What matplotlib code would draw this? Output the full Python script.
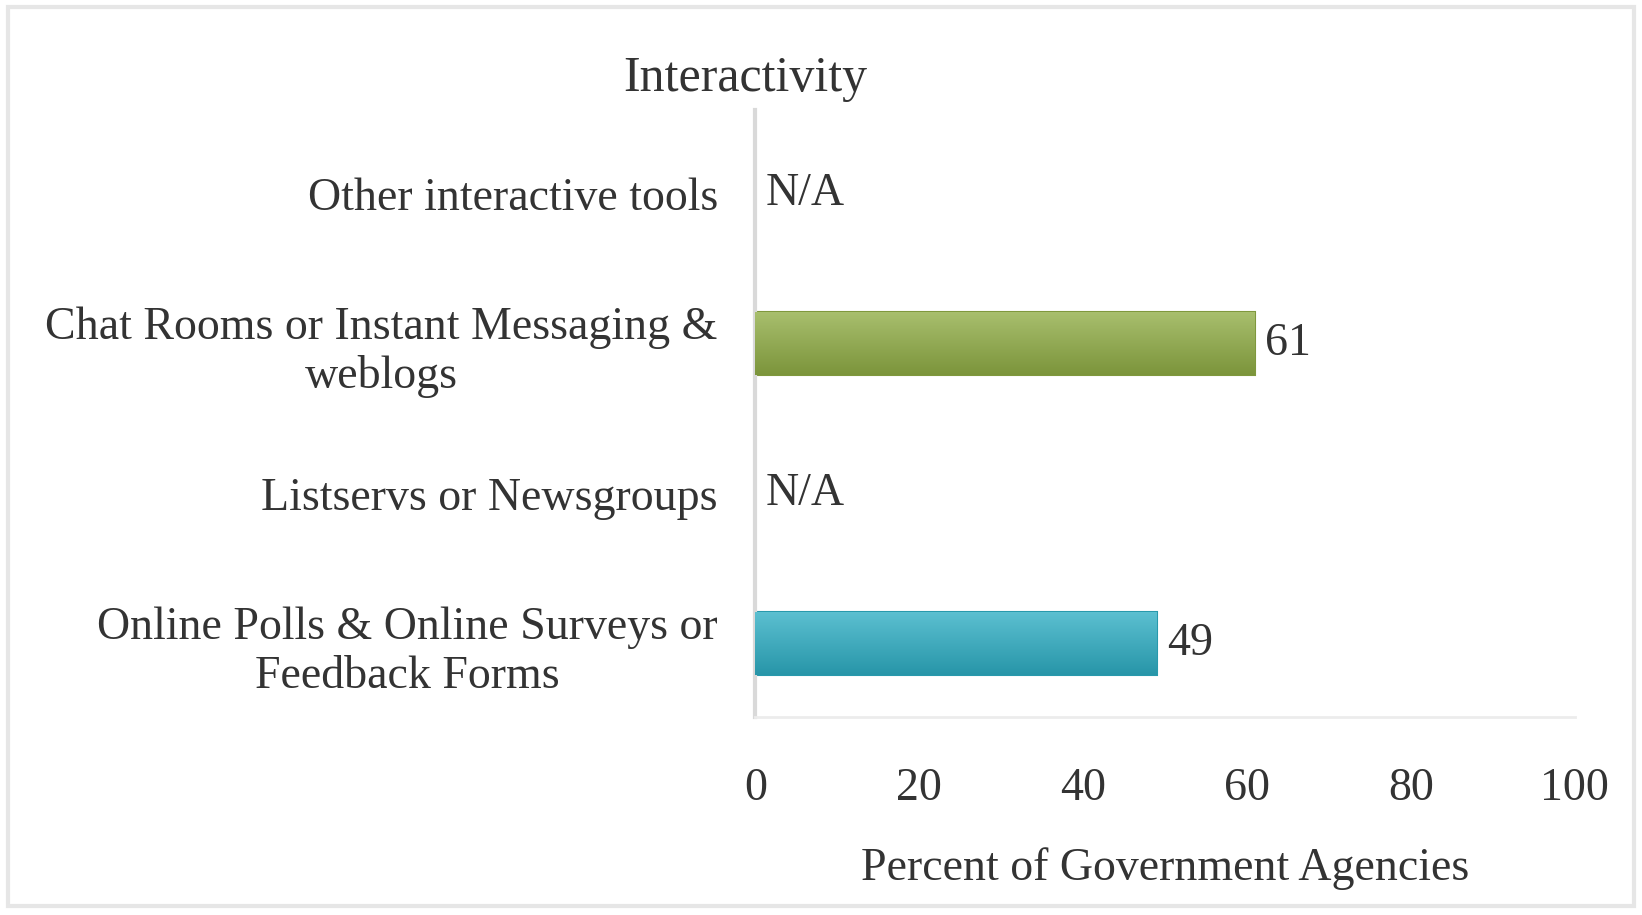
import numpy as np
import matplotlib
matplotlib.use("Agg")
import matplotlib.pyplot as plt
from matplotlib.patches import Rectangle

# Survey results: share of agencies offering each interactive feature
categories = [
    "Online Polls & Online Surveys or\nFeedback Forms",
    "Listservs or Newsgroups",
    "Chat Rooms or Instant Messaging &\nweblogs",
    "Other interactive tools",
]
values = [49, None, 61, None]          # None -> not available
bar_colors = ["#2eaec4", None, "#90ad45", None]
x_ticks = [0, 20, 40, 60, 80, 100]

plt.rcParams["font.family"] = ["Liberation Serif", "DejaVu Serif"]

FS = 33
fig = plt.figure(figsize=(16.42, 9.15), dpi=100)
fig.patch.set_facecolor("white")
ax = fig.add_axes([0.460, 0.216, 0.499, 0.664])

y = np.arange(len(categories))
bar_h = 0.42


def shade(color, f):
    c = np.array(matplotlib.colors.to_rgb(color))
    return np.clip(c * f, 0, 1) if f < 1 else np.clip(c + (1 - c) * (f - 1), 0, 1)


for yi, v, col in zip(y, values, bar_colors):
    if v is None:
        ax.text(1.2, yi, "N/A", va="center", ha="left", fontsize=FS, color="#333333")
        continue
    bar = ax.barh(yi, v, height=bar_h, color=col, edgecolor=shade(col, 0.88),
                  linewidth=1.5, zorder=2)[0]
    # vertical gradient for a soft 3D look
    grad = np.linspace(0, 1, 64)[:, None]
    top, bot = shade(col, 1.22), shade(col, 0.86)
    img = top[None, None, :] * (1 - grad[..., None]) + bot[None, None, :] * grad[..., None]
    im = ax.imshow(img, extent=[0, v, yi - bar_h / 2, yi + bar_h / 2],
                   aspect="auto", zorder=3, interpolation="bilinear")
    im.set_clip_path(bar)
    ax.text(v + 1.2, yi, f"{v}", va="center", ha="left", fontsize=FS, color="#333333")

ax.set_xlim(0, 100)
ax.set_ylim(-0.49, 3.56)
ax.set_xticks(x_ticks)
ax.set_xticklabels([str(t) for t in x_ticks], fontsize=FS, color="#333333")
ax.set_yticks(y)
ax.set_yticklabels(categories, fontsize=FS, color="#333333", linespacing=1.2)
ax.tick_params(axis="both", length=0)
ax.tick_params(axis="x", pad=36)
ax.tick_params(axis="y", pad=27)
for lab in ax.get_yticklabels():
    lab.set_horizontalalignment("right")
    lab.set_multialignment("center")

for s in ["top", "right"]:
    ax.spines[s].set_visible(False)
ax.spines["left"].set_color("#d9d9d9")
ax.spines["left"].set_linewidth(3)
ax.spines["bottom"].set_color("#ececec")
ax.spines["bottom"].set_linewidth(2)

ax.set_xlabel("Percent of Government Agencies", fontsize=FS, color="#333333", labelpad=27)
fig.text(0.454, 0.914, "Interactivity", ha="center", va="center", fontsize=36, color="#333333")

# light frame around the whole chart
fig.patches.append(Rectangle((0.005, 0.01), 0.990, 0.982, transform=fig.transFigure,
                             fill=False, edgecolor="#e6e6e6", linewidth=3))

fig.savefig("out.png", dpi=100, facecolor="white")
